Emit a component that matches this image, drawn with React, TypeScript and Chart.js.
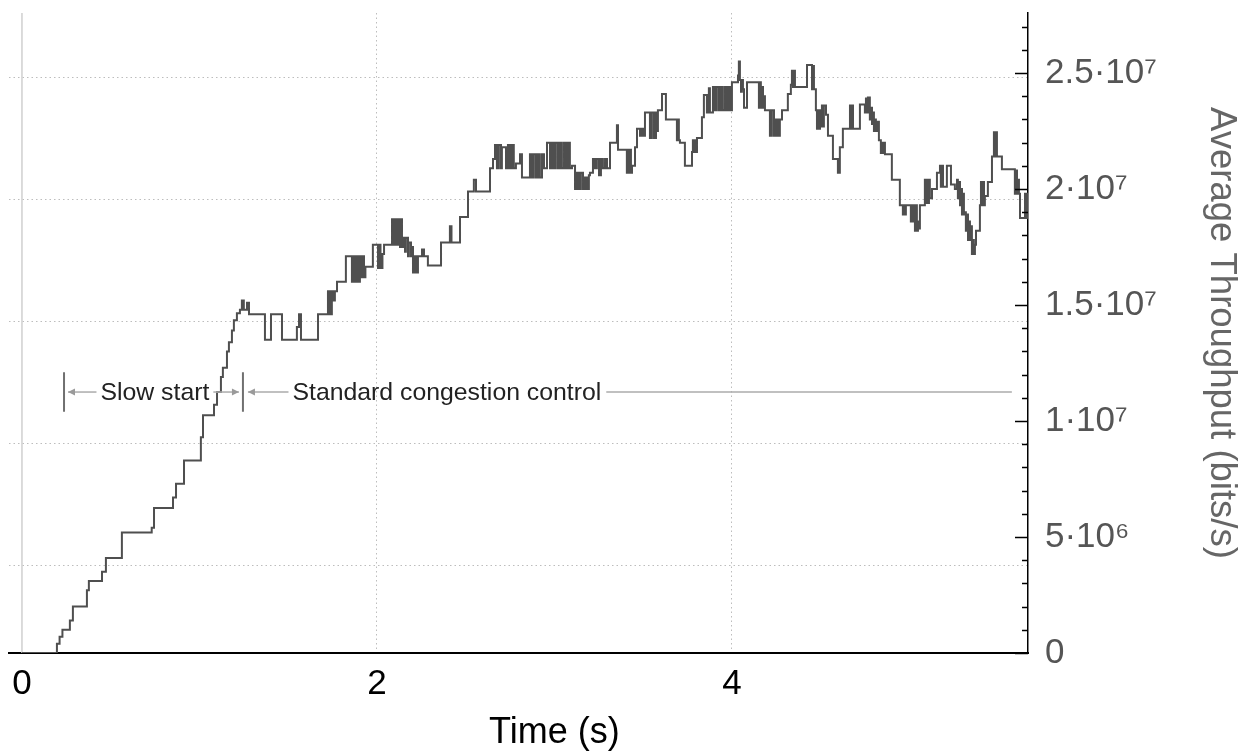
import React, { useEffect, useRef } from "react";
import { Chart, registerables } from "chart.js";

Chart.register(...registerables);

const FONT = '"Liberation Sans", Arial, Helvetica, sans-serif';

// ---- Series: average throughput (Mbit/s) over time (s), step data ----
const slowStartTime = [0, 0.197, 0.212, 0.228, 0.270, 0.287, 0.366, 0.377, 0.451, 0.473, 0.563, 0.731, 0.744, 0.851, 0.868, 0.913, 1.008, 1.020, 1.082, 1.099, 1.121, 1.132, 1.155, 1.166, 1.183, 1.194, 1.211, 1.228, 1.239, 1.250, 1.268, 1.279, 1.369, 1.403, 1.465, 1.549, 1.561, 1.572, 1.668];
const slowStartMbit = [0, 0.4, 0.7, 1.0, 1.4, 2.0, 2.7, 3.1, 3.5, 4.1, 5.2, 5.4, 6.25, 6.7, 7.3, 8.3, 9.3, 10.25, 10.7, 11.25, 11.9, 12.3, 13.0, 13.4, 13.9, 14.35, 14.65, 14.8, 15.2, 14.8, 15.1, 14.6, 13.5, 14.6, 13.5, 14.05, 14.6, 13.5, 14.6];

const riseTime = [1.724, 1.735, 1.746, 1.752, 1.763, 1.775, 1.825, 1.859, 1.868, 1.876, 1.884, 1.893, 1.904, 1.910, 1.918, 1.927, 1.935, 1.977, 2.006, 2.014, 2.020, 2.031, 2.040, 2.085, 2.090, 2.096, 2.101, 2.107, 2.113, 2.124, 2.130, 2.135, 2.141, 2.152, 2.158, 2.163, 2.175, 2.180, 2.192, 2.197, 2.203, 2.208, 2.214, 2.220, 2.225, 2.231, 2.254, 2.265, 2.287, 2.361, 2.411, 2.420, 2.468, 2.513, 2.546, 2.558, 2.637, 2.654, 2.665, 2.676, 2.687, 2.699, 2.704, 2.727, 2.738, 2.749, 2.760, 2.771, 2.783, 2.806, 2.817, 2.862, 2.873, 2.884, 2.896, 2.907, 2.918, 2.930, 2.941];
const riseMbit = [15.6, 14.6, 15.6, 15.2, 15.6, 16.0, 17.1, 16.0, 17.1, 16.0, 17.1, 16.0, 17.1, 16.2, 17.1, 16.2, 16.65, 17.6, 16.6, 17.6, 16.6, 17.2, 17.6, 18.7, 17.6, 18.7, 17.6, 18.7, 17.6, 18.7, 17.5, 18.7, 17.5, 17.9, 17.3, 17.9, 17.1, 17.7, 17.1, 17.5, 16.4, 17.1, 16.4, 17.1, 16.4, 17.1, 17.4, 17.1, 16.7, 17.7, 18.4, 17.7, 18.8, 19.9, 20.4, 19.9, 20.9, 21.3, 21.9, 20.9, 21.9, 20.9, 21.8, 20.9, 21.9, 20.9, 21.9, 20.9, 21.1, 21.5, 20.5, 21.5, 20.5, 21.5, 20.5, 21.5, 20.5, 21.5, 20.9];

const peakTime = [2.958, 2.975, 2.986, 2.997, 3.008, 3.020, 3.031, 3.042, 3.054, 3.065, 3.076, 3.087, 3.099, 3.116, 3.127, 3.138, 3.149, 3.161, 3.172, 3.183, 3.194, 3.200, 3.217, 3.228, 3.239, 3.251, 3.262, 3.273, 3.285, 3.296, 3.313, 3.352, 3.358, 3.408, 3.414, 3.420, 3.425, 3.431, 3.437, 3.454, 3.465, 3.482, 3.493, 3.504, 3.510, 3.538, 3.549, 3.561, 3.572, 3.577, 3.583, 3.606, 3.628, 3.690, 3.696, 3.701, 3.707, 3.735, 3.775, 3.780, 3.786, 3.792, 3.797, 3.803, 3.831, 3.842, 3.859, 3.870, 3.876, 3.893, 3.904, 3.915, 3.927, 3.938, 3.949, 3.961, 3.972, 3.983, 3.994, 4.000, 4.034, 4.039, 4.045, 4.051, 4.056, 4.062, 4.068, 4.085, 4.152, 4.158, 4.163, 4.169, 4.175, 4.180, 4.186, 4.214, 4.225, 4.237, 4.248, 4.259, 4.270];
const peakMbit = [22.0, 20.9, 22.0, 20.9, 22.0, 20.9, 22.0, 20.9, 22.0, 20.9, 22.0, 20.9, 21.0, 20.0, 20.7, 20.0, 20.7, 20.0, 20.5, 20.0, 20.6, 20.7, 21.3, 20.9, 21.3, 20.6, 21.3, 20.9, 21.3, 20.9, 22.0, 22.75, 21.7, 20.7, 21.7, 20.7, 21.7, 20.7, 21.0, 21.8, 22.6, 22.3, 22.6, 22.3, 23.3, 22.2, 23.3, 22.2, 23.3, 22.5, 23.4, 24.1, 23.0, 22.1, 23.0, 22.1, 22.0, 21.0, 21.6, 22.1, 21.6, 22.1, 21.6, 22.2, 23.1, 24.05, 23.3, 24.35, 23.3, 24.4, 23.4, 24.4, 23.4, 24.4, 23.4, 24.4, 23.4, 24.4, 23.4, 24.6, 24.9, 25.5, 24.7, 24.2, 24.7, 24.3, 23.5, 24.6, 23.5, 24.6, 23.5, 24.4, 23.5, 24.0, 23.4, 22.3, 23.4, 22.3, 23.0, 22.3, 23.0];

const declineTime = [4.282, 4.315, 4.332, 4.338, 4.344, 4.349, 4.355, 4.423, 4.451, 4.456, 4.462, 4.473, 4.479, 4.485, 4.490, 4.496, 4.501, 4.507, 4.513, 4.518, 4.530, 4.541, 4.569, 4.597, 4.608, 4.625, 4.665, 4.670, 4.676, 4.682, 4.721, 4.749, 4.755, 4.761, 4.766, 4.777, 4.783, 4.789, 4.794, 4.800, 4.806, 4.811, 4.817, 4.828, 4.839, 4.845, 4.851, 4.856, 4.862, 4.901, 4.946, 4.963, 4.969, 4.975, 4.980, 5.008, 5.014, 5.020, 5.025, 5.031, 5.037, 5.042, 5.048, 5.054, 5.059, 5.087, 5.093, 5.099, 5.104, 5.110, 5.115, 5.127, 5.155, 5.172, 5.177, 5.183, 5.189, 5.211, 5.234, 5.256, 5.268, 5.273, 5.279, 5.285, 5.290, 5.296, 5.301, 5.307, 5.313, 5.318, 5.324, 5.330, 5.335, 5.341, 5.346, 5.352, 5.358, 5.363, 5.369, 5.375, 5.397, 5.403, 5.408, 5.414, 5.420, 5.425, 5.442, 5.465, 5.476, 5.482, 5.487, 5.493, 5.521, 5.594, 5.600, 5.606, 5.611, 5.617, 5.623, 5.651, 5.656, 5.662, 5.668, 5.680];
const declineMbit = [23.4, 24.1, 24.5, 25.1, 24.4, 25.1, 24.4, 25.35, 24.3, 25.3, 24.3, 23.4, 22.6, 23.4, 22.6, 23.4, 22.7, 23.6, 22.7, 23.6, 23.2, 22.3, 21.3, 20.7, 21.8, 22.6, 23.6, 22.6, 23.6, 22.6, 23.65, 23.3, 23.9, 23.3, 23.95, 23.0, 23.5, 22.8, 23.3, 22.5, 23.0, 22.5, 22.9, 22.1, 21.55, 22.0, 21.55, 22.0, 21.5, 20.4, 19.3, 18.9, 19.3, 18.9, 19.3, 18.6, 19.3, 18.6, 19.3, 18.2, 19.3, 18.2, 18.6, 18.3, 19.3, 20.4, 19.4, 20.4, 19.4, 20.4, 19.6, 20.0, 20.7, 21.0, 20.1, 21.0, 20.1, 21.0, 20.2, 20.0, 20.4, 19.6, 20.3, 19.3, 20.0, 18.9, 19.8, 18.9, 19.0, 18.2, 18.9, 17.8, 18.6, 17.8, 18.4, 17.2, 17.8, 17.2, 17.6, 18.2, 19.3, 20.3, 19.3, 20.3, 19.3, 19.7, 20.3, 21.4, 22.45, 21.4, 22.45, 21.4, 20.85, 19.8, 20.8, 19.8, 20.4, 19.8, 18.75, 19.8, 18.75, 19.8, 18.75, 19.3];

const BITS_PER_MBIT = 1e6;

// ---- Axes ----
const xMin = -0.073;
const xMax = 5.668;
const xTickValues = [0, 2, 4];
const xTickLabels = ["0", "2", "4"];
const xGridValues = [2, 4];
const xTitle = "Time (s)";
const xTitleCenter = 3;

const yMin = 0;
const yMax = 27.59e6;
const yMinorStep = 1e6;
const yTickValues = [0, 5e6, 1e7, 1.5e7, 2e7, 2.5e7];
const yTickLabels = ["0", "5·10⁶", "1·10⁷", "1.5·10⁷", "2·10⁷", "2.5·10⁷"];
const yGridValues = [3.76e6, 9.03e6, 14.3e6, 19.56e6, 24.82e6];
const yTitle = "Average Throughput (bits/s)";

// ---- Phase annotation ----
const phaseBounds = [0.237, 1.245];
const phaseLineEnd = 5.577;
const phaseLabels = ["Slow start", "Standard congestion control"];
const phaseLabelCenters = [0.749, 2.394];
const phaseLevel = 11.25e6;
const phaseBarSpan = [10.4e6, 12.1e6];

function drawArrow(ctx: CanvasRenderingContext2D, x1: number, x2: number, y: number, head: boolean) {
  ctx.save();
  ctx.strokeStyle = "#ababab";
  ctx.lineWidth = 1.5;
  ctx.beginPath();
  ctx.moveTo(x1, y);
  ctx.lineTo(x2, y);
  ctx.stroke();
  if (head) {
    const dir = Math.sign(x2 - x1);
    ctx.fillStyle = "#9a9a9a";
    ctx.beginPath();
    ctx.moveTo(x2, y);
    ctx.lineTo(x2 - dir * 7, y - 3.5);
    ctx.lineTo(x2 - dir * 7, y + 3.5);
    ctx.closePath();
    ctx.fill();
  }
  ctx.restore();
}

const isMajor = (v: number) => yTickValues.some((t) => Math.abs(t - v) < 1);

const decorations = {
  id: "decorations",
  beforeDatasetsDraw(chart: any) {
    const { ctx, chartArea, scales } = chart;
    const px = scales.x.getPixelForValue(0);
    ctx.save();
    ctx.strokeStyle = "#cfcfcf";
    ctx.lineWidth = 1.5;
    ctx.beginPath();
    ctx.moveTo(px, chartArea.top);
    ctx.lineTo(px, chartArea.bottom);
    ctx.stroke();
    ctx.restore();
  },
  afterDraw(chart: any) {
    const { ctx, chartArea, scales } = chart;
    const xS = scales.x;
    const yS = scales.y;

    // inward tick marks on the right axis
    ctx.save();
    ctx.strokeStyle = "#000";
    ctx.lineWidth = 1.5;
    ctx.beginPath();
    for (const t of yS.ticks) {
      const len = isMajor(t.value) ? 13 : 6;
      const py = Math.round(yS.getPixelForValue(t.value)) + 0.5;
      ctx.moveTo(chartArea.right - len, py);
      ctx.lineTo(chartArea.right, py);
    }
    ctx.stroke();
    ctx.restore();

    // phase annotation
    const y = yS.getPixelForValue(phaseLevel);
    const b0 = xS.getPixelForValue(phaseBounds[0]);
    const b1 = xS.getPixelForValue(phaseBounds[1]);
    const barTop = yS.getPixelForValue(phaseBarSpan[1]);
    const barBot = yS.getPixelForValue(phaseBarSpan[0]);
    ctx.save();
    ctx.strokeStyle = "#707070";
    ctx.lineWidth = 2;
    ctx.beginPath();
    ctx.moveTo(b0, barTop);
    ctx.lineTo(b0, barBot);
    ctx.moveTo(b1, barTop);
    ctx.lineTo(b1, barBot);
    ctx.stroke();

    ctx.font = `24.8px ${FONT}`;
    ctx.textAlign = "center";
    ctx.textBaseline = "middle";
    ctx.fillStyle = "#222";
    const c0 = xS.getPixelForValue(phaseLabelCenters[0]);
    const c1 = xS.getPixelForValue(phaseLabelCenters[1]);
    const w0 = ctx.measureText(phaseLabels[0]).width;
    const w1 = ctx.measureText(phaseLabels[1]).width;
    ctx.fillText(phaseLabels[0], c0, y + 1);
    ctx.fillText(phaseLabels[1], c1, y + 1);
    ctx.restore();

    drawArrow(ctx, c0 - w0 / 2 - 4, b0 + 4, y, true);
    drawArrow(ctx, c0 + w0 / 2 + 4, b1 - 4, y, true);
    drawArrow(ctx, c1 - w1 / 2 - 4, b1 + 5, y, true);
    drawArrow(ctx, c1 + w1 / 2 + 5, xS.getPixelForValue(phaseLineEnd), y, false);

    // x axis title
    ctx.save();
    ctx.font = `36px ${FONT}`;
    ctx.fillStyle = "#000";
    ctx.textAlign = "center";
    ctx.textBaseline = "middle";
    ctx.fillText(xTitle, xS.getPixelForValue(xTitleCenter), 733);
    ctx.restore();
  },
};

export default function App() {
  const ref = useRef<HTMLCanvasElement>(null);

  useEffect(() => {
    const canvas = ref.current;
    if (!canvas) return;
    const times = [...slowStartTime, ...riseTime, ...peakTime, ...declineTime];
    const mbit = [...slowStartMbit, ...riseMbit, ...peakMbit, ...declineMbit];
    const points = times.map((t, i) => ({ x: t, y: mbit[i] * BITS_PER_MBIT }));

    const chart = new Chart(canvas, {
      type: "line",
      data: {
        datasets: [
          {
            data: points,
            stepped: "before",
            borderColor: "#4f4f4f",
            borderWidth: 2,
            pointRadius: 0,
            fill: false,
            xAxisID: "x",
            yAxisID: "y",
          },
        ],
      },
      options: {
        animation: false,
        responsive: false,
        devicePixelRatio: 1,
        layout: { padding: { top: 13, left: 0, right: 0, bottom: 0 } },
        plugins: {
          legend: { display: false },
          tooltip: { enabled: false },
          title: { display: false },
        },
        scales: {
          x: {
            type: "linear",
            position: "bottom",
            min: xMin,
            max: xMax,
            afterBuildTicks: (s: any) => {
              s.ticks = xTickValues.map((v) => ({ value: v }));
            },
            grid: { display: false },
            border: { display: true, color: "#000", width: 2 },
            ticks: {
              color: "#000",
              font: { size: 35, family: FONT },
              padding: 2,
              maxRotation: 0,
              autoSkip: false,
              callback: (v: any) => {
                const i = xTickValues.indexOf(Number(v));
                return i >= 0 ? xTickLabels[i] : "";
              },
            },
            afterFit: (s: any) => {
              s.height = 100;
              s.paddingLeft = 0;
              s.paddingRight = 0;
            },
          },
          xg: {
            type: "linear",
            position: "top",
            min: xMin,
            max: xMax,
            afterBuildTicks: (s: any) => {
              s.ticks = xGridValues.map((v) => ({ value: v }));
            },
            grid: { color: "#bdbdbd", lineWidth: 1, drawTicks: false },
            border: { display: false, dash: [1.5, 3] },
            ticks: { display: false },
            afterFit: (s: any) => {
              s.height = 0;
              s.paddingLeft = 0;
              s.paddingRight = 0;
            },
          },
          y: {
            type: "linear",
            position: "right",
            min: yMin,
            max: yMax,
            afterBuildTicks: (s: any) => {
              const ticks = [];
              for (let k = 0; k * yMinorStep <= yMax; k++) ticks.push({ value: k * yMinorStep });
              s.ticks = ticks;
            },
            grid: { drawOnChartArea: false, drawTicks: false },
            border: { display: true, color: "#000", width: 1.5 },
            ticks: {
              autoSkip: false,
              color: "#555",
              padding: 17,
              font: { size: 35, family: FONT },
              callback: (v: any) => {
                const i = yTickValues.findIndex((t) => Math.abs(t - Number(v)) < 1);
                return i >= 0 ? yTickLabels[i] : "";
              },
            },
            title: {
              display: true,
              text: yTitle,
              color: "#666",
              font: { size: 36.5, family: FONT },
              padding: { top: 4, bottom: 0 },
            },
            afterFit: (s: any) => {
              s.width = 219;
              s.paddingTop = 0;
              s.paddingBottom = 0;
            },
          },
          yg: {
            type: "linear",
            position: "left",
            min: yMin,
            max: yMax,
            afterBuildTicks: (s: any) => {
              s.ticks = yGridValues.map((v) => ({ value: v }));
            },
            grid: { color: "#bdbdbd", lineWidth: 1, drawTicks: false },
            border: { display: false, dash: [1.5, 3] },
            ticks: { display: false },
            afterFit: (s: any) => {
              s.width = 9;
              s.paddingTop = 0;
              s.paddingBottom = 0;
            },
          },
        },
      } as any,
      plugins: [decorations],
    });

    return () => chart.destroy();
  }, []);

  return (
    <div style={{ position: "fixed", left: 0, top: 0, width: 1247, height: 753, background: "#fff" }}>
      <canvas ref={ref} width={1247} height={753} style={{ display: "block", width: 1247, height: 753 }} />
    </div>
  );
}
